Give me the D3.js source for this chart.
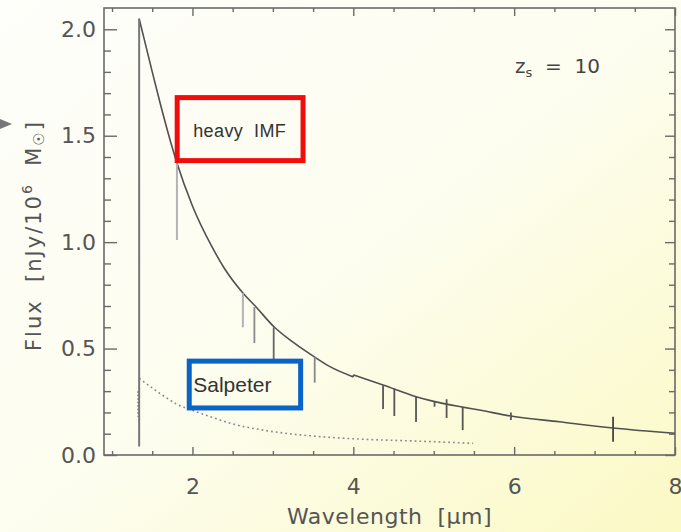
<!DOCTYPE html>
<html>
<head>
<meta charset="utf-8">
<script src="https://cdn.jsdelivr.net/npm/d3@7/dist/d3.min.js"></script>
<style>
  html, body { margin: 0; padding: 0; background: #fefef6; }
  svg { display: block; }
</style>
</head>
<body>
<svg id="chart" width="681" height="532"></svg>
<script>
// ---------------- DATA ----------------
// Heavy IMF continuum, blue side of the 4 µm break (wavelength µm, flux nJy / 1e6 Msun)
const heavyWaveBlue = [1.337, 1.5, 1.6, 1.8, 2.0, 2.24, 2.4, 2.63, 2.78, 3.02, 3.25, 3.52, 3.71, 4.0];
const heavyFluxBlue = [2.05, 1.80, 1.65, 1.38, 1.17, 0.98, 0.875, 0.76, 0.70, 0.60, 0.53, 0.46, 0.415, 0.367];
// Heavy IMF continuum, red side of the break
const heavyWaveRed = [4.0, 4.37, 4.78, 5.0, 5.36, 5.57, 5.96, 6.56, 7.23, 8.0];
const heavyFluxRed = [0.376, 0.329, 0.274, 0.252, 0.225, 0.211, 0.183, 0.156, 0.127, 0.102];
// Spectral line features on the heavy IMF spectrum: wavelength, top, bottom, shade
const lineWave   = [1.337, 1.807, 2.627, 2.77, 3.01, 3.52, 4.37, 4.51, 4.78, 5.01, 5.16, 5.36, 5.96, 7.23];
const lineTop    = [2.05, 1.37, 0.76, 0.695, 0.60, 0.46, 0.326, 0.312, 0.277, 0.252, 0.262, 0.225, 0.200, 0.180];
const lineBottom = [0.04, 1.01, 0.60, 0.526, 0.45, 0.34, 0.216, 0.183, 0.155, 0.227, 0.174, 0.117, 0.165, 0.062];
const lineShade  = ["#777", "#b4b4b4", "#b4b4b4", "#8a8a8a", "#666", "#888", "#555", "#555", "#555", "#555", "#555", "#555", "#555", "#444"];
// Salpeter IMF continuum (dotted)
const salpWave = [1.337, 1.5, 1.65, 1.8, 2.05, 2.3, 2.47, 2.88, 3.2, 3.5, 4.12, 4.74, 5.49];
const salpFlux = [0.36, 0.315, 0.275, 0.24, 0.203, 0.17, 0.149, 0.117, 0.10, 0.089, 0.074, 0.066, 0.055];
const salpDropTop = 0.30, salpDropBottom = 0.18;
// Axes
const xMajor = [2, 4, 6, 8];
const xMinor = [1, 1.5, 2.5, 3, 3.5, 4.5, 5, 5.5, 6.5, 7, 7.5];
const yMajor = [0, 0.5, 1.0, 1.5, 2.0];
const yMinor = [0.1, 0.2, 0.3, 0.4, 0.6, 0.7, 0.8, 0.9, 1.1, 1.2, 1.3, 1.4, 1.6, 1.7, 1.8, 1.9];
const xDomain = [0.9, 8], yDomain = [0, 2.1];
const xLabel = "Wavelength  [µm]";
const redshiftText = "10";
const heavyLabel = "heavy  IMF", salpLabel = "Salpeter";
// annotation boxes in data units [x0, x1, yTop, yBottom]
const heavyBox = [1.81, 3.375, 1.679, 1.383];
const salpBox  = [1.96, 3.345, 0.441, 0.221];

// ---------------- DRAW ----------------
const svg = d3.select("#chart");
const W = 681, H = 532;
const m = {left: 104, right: 6, top: 8, bottom: 77};

const defs = svg.append("defs");
const grad = defs.append("linearGradient").attr("id", "bg")
  .attr("x1", "0").attr("y1", "0").attr("x2", "1").attr("y2", "1");
grad.append("stop").attr("offset", "0").attr("stop-color", "#fefefa");
grad.append("stop").attr("offset", "0.5").attr("stop-color", "#fdfdf0");
grad.append("stop").attr("offset", "1").attr("stop-color", "#fbf9c4");
svg.append("rect").attr("width", W).attr("height", H).attr("fill", "url(#bg)");

const x = d3.scaleLinear().domain(xDomain).range([m.left, W - m.right]);
const y = d3.scaleLinear().domain(yDomain).range([H - m.bottom, m.top]);

const axisColor = "#6a6a6a";
const tickFont = "DejaVu Sans, sans-serif";

function styleAxis(g) {
  g.select(".domain").remove();
  g.selectAll(".tick line").attr("stroke", axisColor).attr("stroke-width", 1.4);
  g.selectAll(".tick text").attr("fill", "#555").attr("font-family", tickFont).attr("font-size", 22);
}

// bottom
svg.append("g").attr("transform", `translate(0,${y(0)})`)
  .call(d3.axisBottom(x).tickValues(xMajor).tickSize(-8).tickSizeOuter(0).tickPadding(23).tickFormat(d3.format("d")))
  .call(styleAxis);
svg.append("g").attr("transform", `translate(0,${y(0)})`)
  .call(d3.axisBottom(x).tickValues(xMinor).tickSize(-4).tickSizeOuter(0).tickFormat(""))
  .call(styleAxis);
// top
svg.append("g").attr("transform", `translate(0,${y(2.1)})`)
  .call(d3.axisTop(x).tickValues(xMajor).tickSize(-8).tickSizeOuter(0).tickFormat(""))
  .call(styleAxis);
svg.append("g").attr("transform", `translate(0,${y(2.1)})`)
  .call(d3.axisTop(x).tickValues(xMinor).tickSize(-4).tickSizeOuter(0).tickFormat(""))
  .call(styleAxis);
// left
svg.append("g").attr("transform", `translate(${x(0.9)},0)`)
  .call(d3.axisLeft(y).tickValues(yMajor).tickSize(-13).tickSizeOuter(0).tickPadding(8).tickFormat(d3.format(".1f")))
  .call(styleAxis);
svg.append("g").attr("transform", `translate(${x(0.9)},0)`)
  .call(d3.axisLeft(y).tickValues(yMinor).tickSize(-7).tickSizeOuter(0).tickFormat(""))
  .call(styleAxis);
// right
svg.append("g").attr("transform", `translate(${x(8)},0)`)
  .call(d3.axisRight(y).tickValues(yMajor).tickSize(-10).tickSizeOuter(0).tickFormat(""))
  .call(styleAxis);
svg.append("g").attr("transform", `translate(${x(8)},0)`)
  .call(d3.axisRight(y).tickValues(yMinor).tickSize(-6).tickSizeOuter(0).tickFormat(""))
  .call(styleAxis);

// frame
svg.append("rect")
  .attr("x", x(0.9)).attr("y", y(2.1))
  .attr("width", x(8) - x(0.9)).attr("height", y(0) - y(2.1))
  .attr("fill", "none").attr("stroke", axisColor).attr("stroke-width", 1.6);

// Salpeter dotted curve
const salpData = salpWave.map((w, i) => [w, salpFlux[i]]);
svg.append("path")
  .datum(salpData)
  .attr("d", d3.line().x(d => x(d[0])).y(d => y(d[1])).curve(d3.curveMonotoneX))
  .attr("fill", "none").attr("stroke", "#8a8a8a").attr("stroke-width", 1.6)
  .attr("stroke-dasharray", "1.8,3");
svg.append("line")
  .attr("x1", x(salpWave[0]) - 1).attr("x2", x(salpWave[0]) - 1)
  .attr("y1", y(salpDropTop)).attr("y2", y(salpDropBottom))
  .attr("stroke", "#555").attr("stroke-width", 1.4).attr("stroke-dasharray", "1.5,2");

// Heavy IMF continuum (two sides of the break joined by the small step)
const lineGen = d3.line().x(d => x(d[0])).y(d => y(d[1])).curve(d3.curveMonotoneX);
const blue = heavyWaveBlue.map((w, i) => [w, heavyFluxBlue[i]]);
const red = heavyWaveRed.map((w, i) => [w, heavyFluxRed[i]]);
svg.append("path").datum(blue).attr("d", lineGen)
  .attr("fill", "none").attr("stroke", "#505050").attr("stroke-width", 1.6);
svg.append("path").datum(red).attr("d", lineGen)
  .attr("fill", "none").attr("stroke", "#505050").attr("stroke-width", 1.6);
svg.append("line")
  .attr("x1", x(blue[blue.length - 1][0])).attr("x2", x(red[0][0]))
  .attr("y1", y(blue[blue.length - 1][1])).attr("y2", y(red[0][1]))
  .attr("stroke", "#505050").attr("stroke-width", 1.6);

// spectral lines
svg.append("g").selectAll("line")
  .data(lineWave.map((w, i) => ({w, t: lineTop[i], b: lineBottom[i], c: lineShade[i]})))
  .join("line")
  .attr("x1", d => x(d.w)).attr("x2", d => x(d.w))
  .attr("y1", d => y(d.t)).attr("y2", d => y(d.b))
  .attr("stroke", d => d.c).attr("stroke-width", (d, i) => i < 3 ? 2 : 1.8);

// x label
svg.append("text")
  .attr("x", (x(0.9) + x(8)) / 2).attr("y", 524)
  .attr("text-anchor", "middle")
  .attr("font-family", tickFont).attr("font-size", 22).attr("fill", "#555")
  .attr("letter-spacing", 0.5)
  .attr("xml:space", "preserve")
  .text(xLabel);

// y label (rotated)
const yl = svg.append("text")
  .attr("transform", `translate(41,${(y(0) + y(2.1)) / 2 + 4}) rotate(-90)`)
  .attr("text-anchor", "middle")
  .attr("font-family", tickFont).attr("font-size", 21).attr("fill", "#555")
  .attr("letter-spacing", 2)
  .attr("xml:space", "preserve");
yl.append("tspan").text("Flux  [nJy/10");
yl.append("tspan").attr("font-size", 14).attr("dy", -9).text("6");
yl.append("tspan").attr("dy", 9).text("  M");
yl.append("tspan").attr("font-size", 15).attr("dy", 3).text("☉");
yl.append("tspan").attr("dy", -3).text("]");

// redshift label
const zt = svg.append("text")
  .attr("x", 515).attr("y", 73)
  .attr("font-family", tickFont).attr("font-size", 20).attr("fill", "#444")
  .attr("xml:space", "preserve");
zt.append("tspan").text("z");
zt.append("tspan").attr("font-size", 13).attr("dy", 4).text("s");
zt.append("tspan").attr("dy", -4).text("  =  " + redshiftText);

// annotation boxes
svg.append("rect")
  .attr("x", x(heavyBox[0])).attr("y", y(heavyBox[2]))
  .attr("width", x(heavyBox[1]) - x(heavyBox[0])).attr("height", y(heavyBox[3]) - y(heavyBox[2]))
  .attr("fill", "none").attr("stroke", "#f20d0d").attr("stroke-width", 5);
svg.append("text")
  .attr("x", x(heavyBox[0]) + 16).attr("y", y(heavyBox[2]) + 39)
  .attr("font-family", "Liberation Sans, Arial, sans-serif").attr("font-size", 18).attr("fill", "#333")
  .attr("letter-spacing", 0.4)
  .attr("xml:space", "preserve")
  .text(heavyLabel);

svg.append("rect")
  .attr("x", x(salpBox[0])).attr("y", y(salpBox[2]))
  .attr("width", x(salpBox[1]) - x(salpBox[0])).attr("height", y(salpBox[3]) - y(salpBox[2]))
  .attr("fill", "none").attr("stroke", "#0a64c8").attr("stroke-width", 5);
svg.append("text")
  .attr("x", x(salpBox[0]) + 4).attr("y", y(salpBox[2]) + 31)
  .attr("font-family", "Liberation Sans, Arial, sans-serif").attr("font-size", 21).attr("fill", "#333")
  .text(salpLabel);

// small arrow head at left edge
svg.append("path")
  .attr("d", "M0,119 L12,124 L0,129 Z")
  .attr("fill", "#777");
</script>
</body>
</html>
